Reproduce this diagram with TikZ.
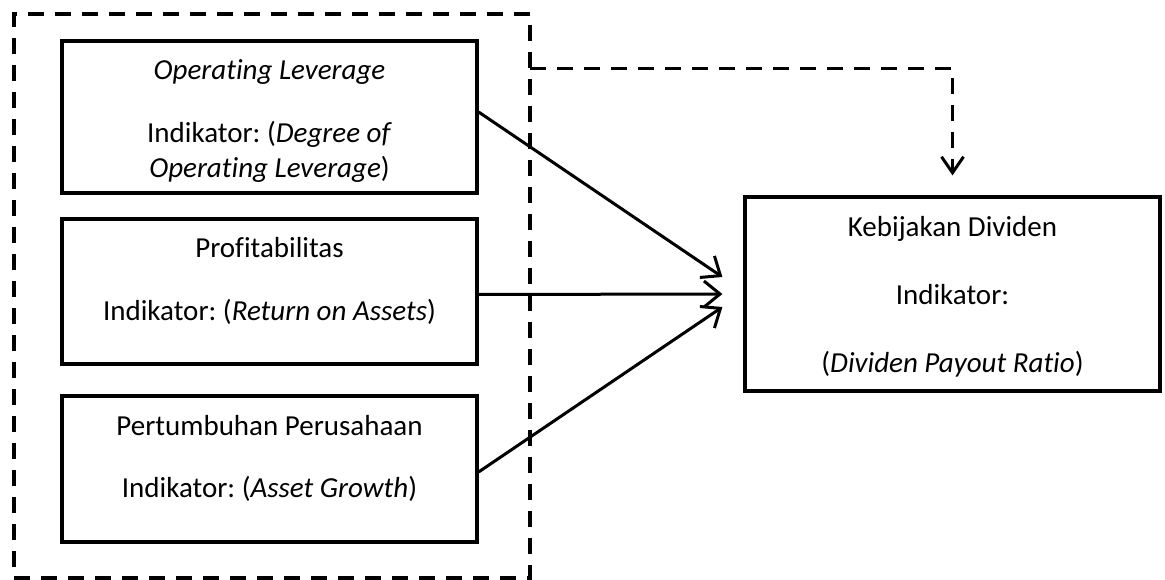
\documentclass[tikz,border=0pt]{standalone}
\usepackage{fontspec}
\setmainfont{Carlito}[Ligatures=NoCommon]
\frenchspacing
\usetikzlibrary{arrows.meta,calc}
\tikzset{
  boxnode/.style={draw=black, line width=3.2pt, rectangle, minimum width=415pt, inner sep=0pt},
  groupbox/.style={draw=black, line width=3.2pt, dash pattern=on 16pt off 11pt, rectangle, inner sep=0pt},
  txt/.style={anchor=base, inner sep=0pt, font=\fontsize{29}{35}\selectfont},
  solidarrow/.style={line width=3pt, -{Straight Barb[length=16pt,width=26pt]}},
  dasharrow/.style={line width=3pt, dash pattern=on 16pt off 11pt, -{Straight Barb[length=16pt,width=22pt]}}
}
\begin{document}
\begin{tikzpicture}[x=1pt,y=-1pt]
\useasboundingbox (0,0) rectangle (1165,580);
% group dashed box
\node[groupbox, minimum width=516pt, minimum height=564pt] (grp) at (272,296) {};
% boxes
\node[boxnode, minimum height=152pt] (b1) at (269.5,117) {};
\node[boxnode, minimum height=145pt] (b2) at (269.5,291.5) {};
\node[boxnode, minimum height=146pt] (b3) at (269.5,469) {};
\node[boxnode, minimum height=194pt] (rb) at (952.5,294) {};
% texts
\node[txt] (b1a) at (269.5,80) {\itshape Operating Leverage};
\node[txt] (b1b) at (269.5,143) {Indikator: (\textit{Degree of}};
\node[txt] (b1c) at (269.5,178) {\textit{Operating Leverage})};
\node[txt] (b2a) at (269.5,258) {Profitabilitas};
\node[txt] (b2b) at (269.5,320) {Indikator: (\textit{Return on Assets})};
\node[txt] (b3a) at (269.5,435) {Pertumbuhan Perusahaan};
\node[txt] (b3b) at (269.5,497) {Indikator: (\textit{Asset Growth})};
\node[txt] (rba) at (952.5,237) {Kebijakan Dividen};
\node[txt] (rbb) at (952.5,305) {Indikator:};
\node[txt] (rbc) at (952.5,372) {(\textit{Dividen Payout Ratio})};
% arrow targets
\coordinate (t1) at ([shift={(-21pt,17pt)}]rb.west);
\coordinate (t2) at ([xshift=-21pt]rb.west);
\coordinate (t3) at ([shift={(-21pt,-13pt)}]rb.west);
\draw[solidarrow] ([yshift=5pt]b1.east) -- (t1);
\draw[solidarrow] ([yshift=-3pt]b2.east) -- (t2);
\draw[solidarrow] ([yshift=-3pt]b3.east) -- (t3);
% dashed connector
\coordinate (d0) at (530,69);
\coordinate (d1) at ([yshift=20pt]rb.north);
\draw[dasharrow] (d0) -| (d1);
\end{tikzpicture}
\end{document}
